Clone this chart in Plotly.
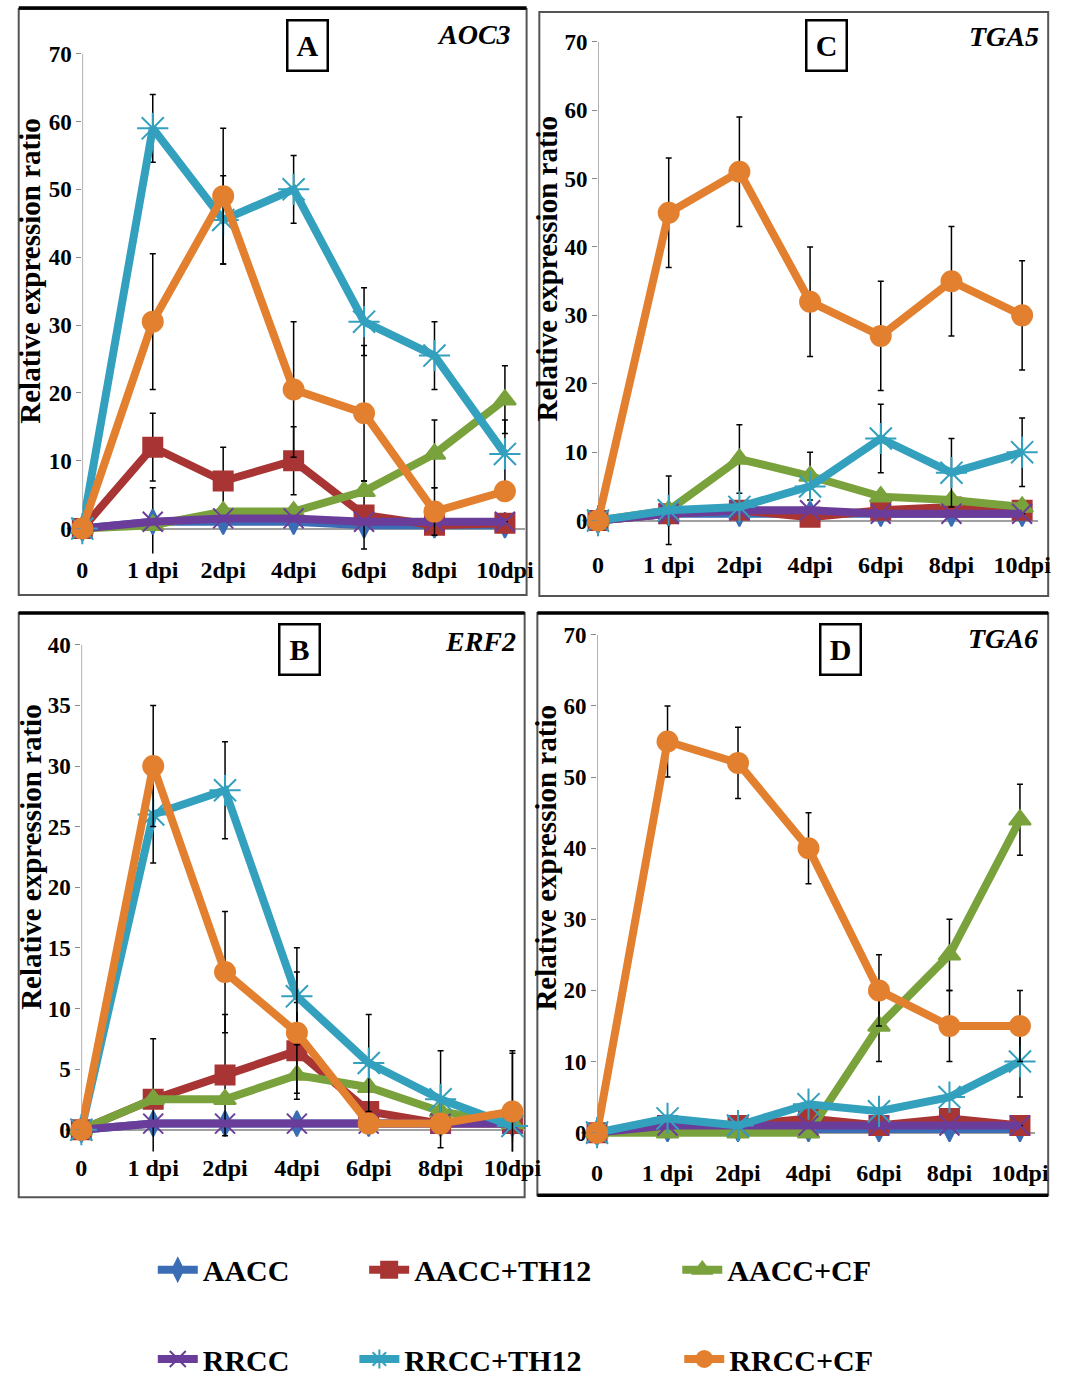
import plotly.graph_objects as go

W, H = 1073, 1385

categories = ["0", "1 dpi", "2dpi", "4dpi", "6dpi", "8dpi", "10dpi"]
series_names = ["AACC", "AACC+TH12", "AACC+CF", "RRCC", "RRCC+TH12", "RRCC+CF"]
N = None

# Panel A - AOC3
aoc3_vals = {
    "AACC":      [0, 1, 1, 1, 0.5, 0.5, 0.5],
    "AACC+TH12": [0, 12, 7, 10, 2, 0.5, 0.8],
    "AACC+CF":   [0, 0.5, 2.5, 2.5, 5.5, 11, 19],
    "RRCC":      [0, 1, 1.5, 1.5, 1, 1, 1],
    "RRCC+TH12": [0, 59, 45.5, 50, 30.5, 25.5, 11],
    "RRCC+CF":   [0, 30.5, 49, 20.5, 17, 2.5, 5.5],
}
aoc3_err = {
    "AACC":      [N, 5, N, N, N, N, N],
    "AACC+TH12": [N, 5, 5, 5, 5, N, N],
    "AACC+CF":   [N, N, N, N, N, 5, 5],
    "RRCC":      [N, N, N, N, N, N, N],
    "RRCC+TH12": [N, 5, 6.5, 5, 5, 5, 5],
    "RRCC+CF":   [N, 10, 10, 10, 10, 3.5, N],
}
# Panel C - TGA5
tga5_vals = {
    "AACC":      [0, 1, 1, 1, 1, 1, 1],
    "AACC+TH12": [0, 1, 1.5, 0.5, 1.5, 2, 1.5],
    "AACC+CF":   [0, 1.5, 9, 6.5, 3.5, 3, 2],
    "RRCC":      [0, 1, 1.5, 1.5, 1, 1, 1],
    "RRCC+TH12": [0, 1.5, 2, 5, 12, 7, 10],
    "RRCC+CF":   [0, 45, 51, 32, 27, 35, 30],
}
tga5_err = {
    "AACC":      [N, N, N, N, N, N, N],
    "AACC+TH12": [N, N, N, N, N, N, N],
    "AACC+CF":   [N, 5, 5, 3.5, N, N, N],
    "RRCC":      [N, N, N, N, N, N, N],
    "RRCC+TH12": [N, N, N, N, 5, 5, 5],
    "RRCC+CF":   [N, 8, 8, 8, 8, 8, 8],
}
# Panel B - ERF2
erf2_vals = {
    "AACC":      [0, 0.5, 0.5, 0.5, 0.5, 0.5, 0.5],
    "AACC+TH12": [0, 2.5, 4.5, 6.5, 1.5, 0.5, 0.5],
    "AACC+CF":   [0, 2.5, 2.5, 4.5, 3.5, 1.5, 0.5],
    "RRCC":      [0, 0.5, 0.5, 0.5, 0.5, 0.5, 0.5],
    "RRCC+TH12": [0, 26, 28, 11, 5.5, 2.5, 0.3],
    "RRCC+CF":   [0, 30, 13, 8, 0.5, 0.5, 1.5],
}
erf2_err = {
    "AACC":      [N, N, N, N, N, N, N],
    "AACC+TH12": [N, 5, 5, 4, N, N, N],
    "AACC+CF":   [N, N, N, N, N, N, N],
    "RRCC":      [N, N, N, N, N, N, N],
    "RRCC+TH12": [N, 4, 4, 4, 4, 4, 6],
    "RRCC+CF":   [N, 5, 5, 5, N, N, 5],
}
# Panel D - TGA6
tga6_vals = {
    "AACC":      [0, 0.5, 0.5, 0.5, 0.5, 0.5, 0.5],
    "AACC+TH12": [0, 1, 1, 2, 1, 2, 1],
    "AACC+CF":   [0, 0, 0, 0, 15, 25, 44],
    "RRCC":      [0, 1, 1, 1, 1, 1, 1],
    "RRCC+TH12": [0, 2, 1, 4, 3, 5, 10],
    "RRCC+CF":   [0, 55, 52, 40, 20, 15, 15],
}
tga6_err = {
    "AACC":      [N, N, N, N, N, N, N],
    "AACC+TH12": [N, N, N, N, N, N, N],
    "AACC+CF":   [N, N, N, N, 5, 5, 5],
    "RRCC":      [N, N, N, N, N, N, N],
    "RRCC+TH12": [N, N, N, N, N, N, 5],
    "RRCC+CF":   [N, 5, 5, 5, 5, 5, 5],
}

colors = {
    "AACC": "#3A6DB5", "AACC+TH12": "#A83434", "AACC+CF": "#7AA23C",
    "RRCC": "#6A3D9A", "RRCC+TH12": "#33A0BE", "RRCC+CF": "#E3802F",
}
symbols = {
    "AACC": "diamond-tall", "AACC+TH12": "square", "AACC+CF": "triangle-up",
    "RRCC": "x-thin-open", "RRCC+TH12": "asterisk-open", "RRCC+CF": "circle",
}
msizes = {"AACC": 18, "AACC+TH12": 19, "AACC+CF": 19, "RRCC": 20, "RRCC+TH12": 26, "RRCC+CF": 20}

def fx(px):
    return px / W

def fy(py):
    return 1 - py / H

SERIF = "Liberation Serif, Times New Roman, serif"

panels = [
    # suffix, vals, errs, x px domain, y px domain (top,bottom), xmax, yrange, dtick, top tick, gene, letter, letter pos, gene pos, title pos
    ("", aoc3_vals, aoc3_err, (78, 530), (40, 555), 6.28, (-3.66, 71.76), 10, 70, "AOC3", "A", (308, 44), (518, 33), (25, 270)),
    ("2", tga5_vals, tga5_err, (605, 1055), (30, 550), 6.23, (-4.07, 71.45), 10, 70, "TGA5", "C", (838, 44), (1058, 35), (553, 268)),
    ("3", erf2_vals, erf2_err, (77, 530), (637, 1157), 6.17, (-1.8, 40.82), 5, 40, "ERF2", "B", (300, 652), (523, 644), (26, 860)),
    ("4", tga6_vals, tga6_err, (604, 1052), (627, 1162), 6.22, (-3.35, 71.4), 10, 70, "TGA6", "D", (853, 652), (1057, 641), (552, 861)),
]

fig = go.Figure()
layout = dict(
    width=W, height=H, margin=dict(l=0, r=0, t=0, b=0),
    paper_bgcolor="white", plot_bgcolor="rgba(0,0,0,0)",
    font=dict(family=SERIF, color="black"),
)
shapes = []
annotations = []

legend_keys = ["legend", "legend2", "legend3", "legend4", "legend5", "legend6"]

for pi, (sfx, vals, errs, xd, yd, xmax, yr, dt, ymaxtick, gene, letter, lpos, gpos, tpos) in enumerate(panels):
    xa = "x" + sfx
    ya = "y" + sfx
    for si, name in enumerate(series_names):
        mk = dict(symbol=symbols[name], size=msizes[name], color=colors[name],
                  line=dict(color=colors[name], width=2))
        fig.add_trace(go.Scatter(
            x=categories, y=vals[name], name=name, mode="lines+markers",
            line=dict(color=colors[name], width=8),
            marker=mk,
            error_y=dict(type="data", array=errs[name], color="black", thickness=1.5, width=3),
            xaxis=xa, yaxis=ya, cliponaxis=False,
            showlegend=(pi == 0), legend=legend_keys[si],
        ))
    layout["xaxis" + sfx] = dict(
        domain=[fx(xd[0]), fx(xd[1])], anchor=ya, type="category",
        range=[0, xmax], showgrid=False, showline=False, ticks="",
        tickfont=dict(family=SERIF, size=24, color="black", weight="bold"),
        zeroline=False, fixedrange=True,
    )
    layout["yaxis" + sfx] = dict(
        domain=[fy(yd[1]), fy(yd[0])], anchor=xa, range=list(yr),
        tickmode="linear", tick0=0, dtick=dt, showgrid=False, showline=False,
        ticks="outside", ticklen=5, tickcolor="#888", tickwidth=1,
        tickfont=dict(family=SERIF, size=23, color="black", weight="bold"),
        zeroline=True, zerolinecolor="#A0A0A0", zerolinewidth=2,
        fixedrange=True,
    )
    shapes.append(dict(type="line", xref=xa, yref=ya, x0=0, x1=0, y0=0, y1=ymaxtick,
                       line=dict(color="#999", width=1.5), layer="below"))
    annotations.append(dict(
        xref="paper", yref="paper", x=fx(lpos[0]), y=fy(lpos[1]), xanchor="center", yanchor="middle",
        text="<b>%s</b>" % letter, showarrow=False, width=30, height=40,
        font=dict(family=SERIF, size=30, color="black"),
        bordercolor="black", borderwidth=2.5, borderpad=4, bgcolor="white",
    ))
    annotations.append(dict(
        xref="paper", yref="paper", x=fx(gpos[0]), y=fy(gpos[1]), xanchor="right", yanchor="middle",
        text="<b><i>%s</i></b>" % gene, showarrow=False,
        font=dict(family=SERIF, size=28, color="black"),
    ))
    annotations.append(dict(
        xref="paper", yref="paper", x=fx(tpos[0]), y=fy(tpos[1]), xanchor="center", yanchor="middle",
        text="<b>Relative expression ratio</b>", textangle=-90, showarrow=False,
        font=dict(family=SERIF, size=29, color="black"),
    ))

# panel frames
frames = [(13, 7, 532, 597), (545, 10, 1065, 598), (13, 615, 530, 1203), (543, 615, 1065, 1201)]
for (x0, y0, x1, y1) in frames:
    shapes.append(dict(type="rect", xref="paper", yref="paper", x0=fx(x0), x1=fx(x1), y0=fy(y1), y1=fy(y0),
                       line=dict(color="#555", width=2), layer="below"))
for (x0, x1, yy) in [(13, 532, 6), (13, 530, 615), (543, 1065, 615), (543, 1065, 1201)]:
    shapes.append(dict(type="line", xref="paper", yref="paper", x0=fx(x0), x1=fx(x1), y0=fy(yy), y1=fy(yy),
                       line=dict(color="black", width=3.5), layer="below"))

# legends (one per series, laid out in 2 rows of 3)
legend_pos = [(150, 1276), (366, 1276), (686, 1276), (150, 1366), (356, 1366), (688, 1366)]
for key, (lx, ly) in zip(legend_keys, legend_pos):
    layout[key] = dict(
        x=fx(lx), y=fy(ly), xanchor="left", yanchor="middle", orientation="h",
        bgcolor="rgba(0,0,0,0)", borderwidth=0,
        font=dict(family=SERIF, size=30, color="black", weight="bold"),
        itemsizing="trace", itemwidth=40,
    )

layout["shapes"] = shapes
layout["annotations"] = annotations
fig.update_layout(**layout)
fig.write_html("out.html")
